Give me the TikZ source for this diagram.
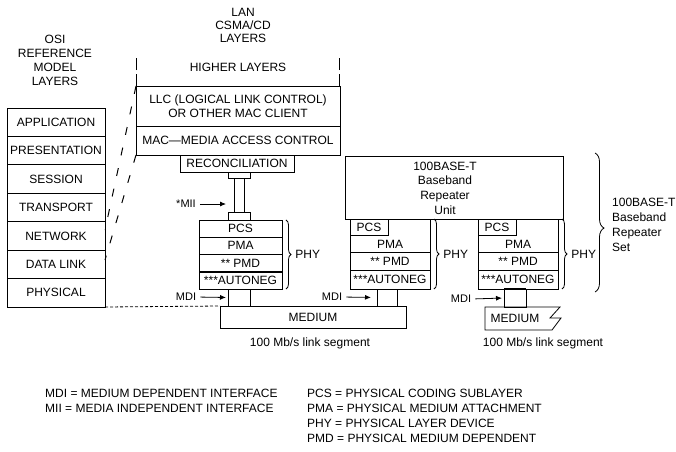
\documentclass[tikz,border=0pt]{standalone}
\usepackage{fontspec}
\setmainfont{Liberation Sans}
\usetikzlibrary{arrows.meta,decorations.pathreplacing}

\tikzset{
  box/.style 2 args={draw, line width=0.8pt, minimum width=#1pt, minimum height=#2pt, inner sep=0pt, outer sep=0pt},
  lbl/.style={inner sep=0pt},
  mdilbl/.style={inner sep=0pt, font=\fontsize{11}{13}\selectfont},
  mdiarrow/.style={-{Latex[length=6pt,width=5pt]}, line width=0.8pt, shorten <=4pt, shorten >=2pt},
  phybrace/.style={decorate, decoration={brace, amplitude=5pt}, line width=0.8pt},
  osilink/.style={line width=1pt, dash pattern=on 8pt off 13pt},
}

\begin{document}
\begin{tikzpicture}[x=1pt, y=-1pt, font=\fontsize{12}{14}\selectfont]
  \useasboundingbox (0,0) rectangle (676,451);

  % OSI reference model layers
  \node[lbl, align=center] (osititle) at (55,60) {OSI\\REFERENCE\\MODEL\\LAYERS};
  \foreach \nm/\txt [count=\i from 0] in {app/APPLICATION, pres/PRESENTATION, sess/SESSION,
      trans/TRANSPORT, net/NETWORK, dl/DATA LINK, phys/PHYSICAL}
    \node[box={98}{28.43}] (\nm) at (56,{122.2+28.43*\i}) {\txt};

  % LAN CSMA/CD layers
  \node[lbl, align=center, font=\fontsize{12}{13}\selectfont] (lantitle) at (243,25) {LAN\\CSMA/CD\\LAYERS};
  \node[lbl] (higher) at (238,67) {HIGHER LAYERS};
  \node[box={204}{40}, align=center] (llc) at (238,106) {LLC (LOGICAL LINK CONTROL)\\OR OTHER MAC CLIENT};
  \node[box={204}{29}] (mac) at (238,140.5) {MAC---MEDIA ACCESS CONTROL};
  \node[box={114}{17}] (rec) at (237,163.5) {RECONCILIATION};
  \draw[line width=0.8pt, dash pattern=on 12pt off 4pt] (llc.north west) -- ++(0,-28);
  \draw[line width=0.8pt, dash pattern=on 12pt off 4pt] ([xshift=-1pt]llc.north east) -- ++(0,-28);

  % links to the OSI model
  \coordinate (osia) at (105,230);
  \coordinate (osib) at (105,260);
  \draw[osilink] (llc.north west) -- (osia);
  \draw[osilink] (mac.south west) -- (osib);

  % MII cable
  \node[box={22}{6}] (miitop) at (239,175) {};
  \node[box={22}{8}] (miibot) at (239,216) {};
  \draw[line width=0.8pt] ([xshift=-5pt]miitop.south) -- ([xshift=-5pt]miibot.north);
  \draw[line width=0.8pt] ([xshift=5pt]miitop.south) -- ([xshift=5pt]miibot.north);
  \node[mdilbl] (mii) at (186,204) {*MII};
  \draw[mdiarrow] (mii.east) -- (miibot.west |- mii.east);

  % PHY of the station
  \foreach \nm/\txt [count=\i from 0] in {pcsa/PCS, pmaa/PMA, pmda/** PMD, ana/***AUTONEG}
    \node[box={83}{17.25}] (\nm) at (240.5,{228.6+17.25*\i}) {\txt};
  \draw[line width=2pt] (ana.north west) -- (ana.north east);
  \draw[phybrace] ([xshift=4pt]pcsa.north east) -- ([xshift=4pt]ana.south east)
    node[midway, right=9pt, inner sep=0pt] (phya) {PHY};

  % link segment 1
  \node[box={22}{17}] (plug1) at (239,297.5) {};
  \node[box={186}{22}] (medium1) at (313,317) {MEDIUM};
  \node[lbl] (seg1) at (310,343) {100 Mb/s link segment};
  \node[mdilbl] (mdi1) at (186,297) {MDI};
  \draw[mdiarrow] (mdi1.east) -- (plug1.west);
  \draw[line width=0.8pt, dash pattern=on 3pt off 2pt] (phys.south east) -- (medium1.north west);

  % 100BASE-T baseband repeater unit
  \node[box={218}{63}] (unit) at (454,187.5) {};
  \node[lbl, align=center, font=\fontsize{12}{14.7}\selectfont] (unittxt) at (445,188) {100BASE-T\\Baseband\\Repeater\\Unit};
  \foreach \nm/\xl in {ra/350, rb/478} {
    \node[box={80}{70}] (\nm) at (\xl+40,254) {};
    \node[box={38}{16}, anchor=north west] (\nm-pcs) at (\nm.north west) {PCS};
    \node[lbl] (\nm-pma) at (\xl+40,244) {PMA};
    \node[box={80}{18.5}, anchor=south] (\nm-an) at (\nm.south) {***AUTONEG};
    \node[box={80}{18}, anchor=south] (\nm-pmd) at (\nm-an.north) {** PMD};
    \draw[phybrace] ([xshift=4pt]\nm.north east) -- ([xshift=4pt]\nm.south east)
      node[midway, right=9pt, inner sep=0pt] (\nm-phy) {PHY};
  }

  % repeater ports
  \node[box={20}{17}] (plug2) at (387,297.5) {};
  \node[mdilbl] (mdi2) at (332,297) {MDI};
  \draw[mdiarrow, shorten >=6pt] (mdi2.east) -- (plug2.west);
  \node[box={22}{18}] (plug3) at (515,298) {};
  \draw[line width=1.8pt] (plug3.north west) -- (plug3.north east);
  \node[mdilbl] (mdi3) at (461,299) {MDI};
  \draw[mdiarrow] (mdi3.east) -- (plug3.west);

  % link segment 2
  \draw[line width=0.8pt] (485,307) -- (560,307) -- (550,318) -- (561,318) -- (552,330) -- (485,330) -- cycle;
  \node[lbl] (medium2) at (515,318) {MEDIUM};
  \node[lbl] (seg2) at (543,343) {100 Mb/s link segment};

  % repeater set
  \draw[decorate, decoration={brace, amplitude=9pt, aspect=0.54}, line width=0.8pt] (595,153) -- (595,292);
  \node[lbl, align=left, anchor=west, font=\fontsize{12}{15}\selectfont] (settxt) at (612,224.5) {100BASE-T\\Baseband\\Repeater\\Set};

  % abbreviations
  \foreach \txt [count=\i from 0] in {MDI = MEDIUM DEPENDENT INTERFACE, MII = MEDIA INDEPENDENT INTERFACE}
    \node[lbl, anchor=west] (abbl\i) at (45,{393+15*\i}) {\txt};
  \foreach \txt [count=\i from 0] in {PCS = PHYSICAL CODING SUBLAYER, PMA = PHYSICAL MEDIUM ATTACHMENT,
      PHY = PHYSICAL LAYER DEVICE, PMD = PHYSICAL MEDIUM DEPENDENT}
    \node[lbl, anchor=west] (abbr\i) at (307,{393+15*\i}) {\txt};
\end{tikzpicture}
\end{document}
